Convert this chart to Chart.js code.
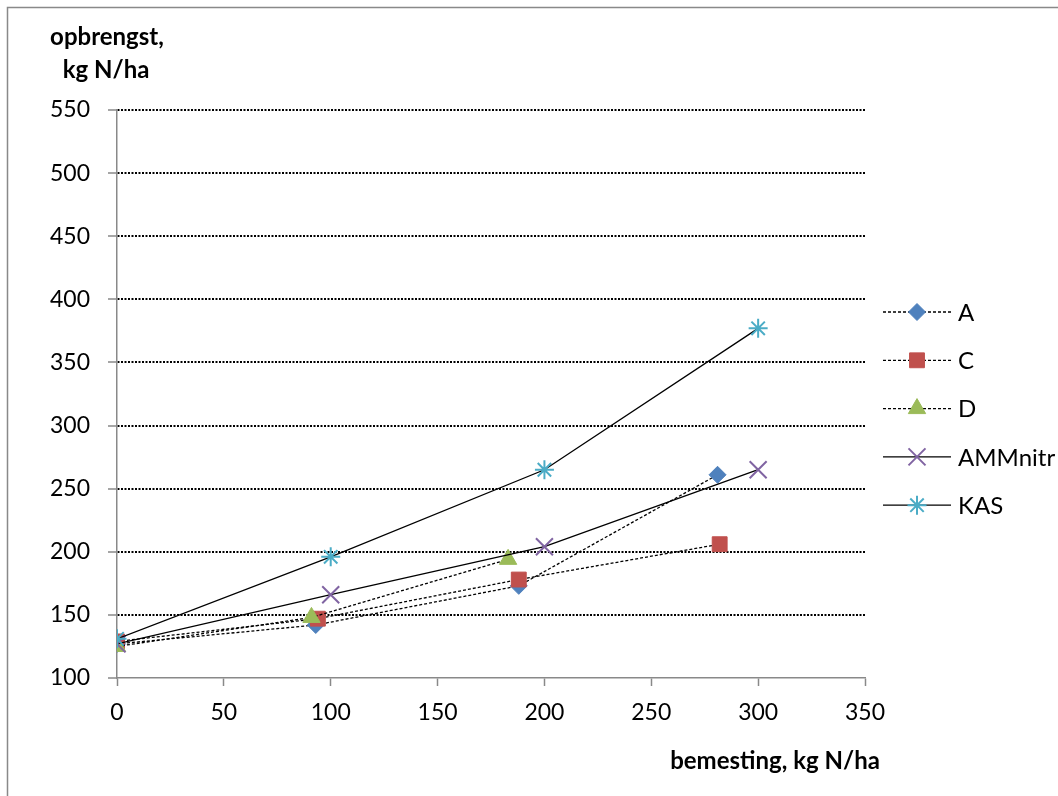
<!DOCTYPE html>
<html lang="no">
<head>
  <meta charset="UTF-8" />
  <title>Opbrengst vs bemesting</title>
  <script src="https://cdn.jsdelivr.net/npm/chart.js"></script>
  <style>
    html, body { margin: 0; padding: 0; background: #fff; }
    #wrap { position: relative; width: 1058px; height: 796px; }
  </style>
</head>
<body>
  <div id="wrap"><canvas id="chart" width="1058" height="796"></canvas></div>
  <script>
    // series names + values
    const seriesNames = ['A', 'C', 'D', 'AMMnitr', 'KAS'];
    const xA = [0, 93, 188, 281];
    const yA = [127, 142, 173, 261];
    const xC = [0, 94, 188, 282];
    const yC = [129, 147, 178, 206];
    const xD = [0, 91, 183];
    const yD = [125, 148, 194];
    const xAmm = [0, 100, 200, 300];
    const yAmm = [127, 166, 204, 265];
    const xKas = [0, 100, 200, 300];
    const yKas = [131, 196, 265, 377];

    const xTitle = 'bemesting, kg N/ha';
    const yTitle = ['opbrengst,', 'kg N/ha'];

    const FONT = 'Lato, "Open Sans", sans-serif';
    const AXIS_GREY = '#898989';

    function pts(xs, ys) {
      return xs.map((x, i) => ({ x: x, y: ys[i] }));
    }

    const datasets = [
      { label: seriesNames[0], data: pts(xA, yA), borderDash: [3, 2], pointStyle: 'rectRot', pointRadius: 8.5,
        pointBackgroundColor: '#4F81BD', pointBorderColor: '#4F81BD', pointBorderWidth: 1 },
      { label: seriesNames[1], data: pts(xC, yC), borderDash: [3, 2], pointStyle: 'rect', pointRadius: 10.5,
        pointBackgroundColor: '#C0504D', pointBorderColor: '#C0504D', pointBorderWidth: 1 },
      { label: seriesNames[2], data: pts(xD, yD), borderDash: [3, 2], pointStyle: 'triangle', pointRadius: 10,
        pointBackgroundColor: '#9BBB59', pointBorderColor: '#9BBB59', pointBorderWidth: 1 },
      { label: seriesNames[3], data: pts(xAmm, yAmm), borderDash: [], pointStyle: 'crossRot', pointRadius: 12,
        pointBackgroundColor: '#8064A2', pointBorderColor: '#8064A2', pointBorderWidth: 2 },
      { label: seriesNames[4], data: pts(xKas, yKas), borderDash: [], pointStyle: 'star', pointRadius: 9.5,
        pointBackgroundColor: '#4BACC6', pointBorderColor: '#4BACC6', pointBorderWidth: 2 }
    ].map((d, i) => Object.assign({
      showLine: true,
      borderColor: '#000',
      borderWidth: 1.3,
      fill: false,
      tension: 0,
      order: 5 - i, // later series on top, like the original
      pointHoverRadius: d.pointRadius
    }, d));

    // frame, axis captions and the legend on the right
    const decor = {
      id: 'decor',
      beforeDraw(chart) {
        const ctx = chart.ctx;
        ctx.save();
        ctx.fillStyle = '#fff';
        ctx.fillRect(0, 0, chart.width, chart.height);
        ctx.strokeStyle = AXIS_GREY;
        ctx.lineWidth = 1.5;
        ctx.strokeRect(7.5, 7.5, chart.width - 4, chart.height + 10);
        ctx.restore();
      },
      afterDatasetsDraw(chart) {
        const ctx = chart.ctx;
        ctx.save();
        ctx.fillStyle = '#000';
        ctx.font = 'bold 24px ' + FONT;
        ctx.textAlign = 'center';
        ctx.textBaseline = 'middle';
        ctx.fillText(yTitle[0], 107, 37);
        ctx.fillText(yTitle[1], 106, 70);
        ctx.fillText(xTitle, 775, 761);

        // legend
        ctx.font = '24px ' + FONT;
        ctx.textAlign = 'left';
        chart.data.datasets.forEach((ds, i) => {
          const y = 312 + i * 48.3;
          ctx.save();
          ctx.strokeStyle = ds.borderColor;
          ctx.lineWidth = ds.borderWidth;
          ctx.setLineDash(ds.borderDash);
          ctx.beginPath();
          ctx.moveTo(883, y);
          ctx.lineTo(951, y);
          ctx.stroke();
          ctx.restore();
          ctx.save();
          ctx.fillStyle = ds.pointBackgroundColor;
          ctx.strokeStyle = ds.pointBorderColor;
          ctx.lineWidth = ds.pointBorderWidth;
          Chart.helpers.drawPoint(ctx, {
            pointStyle: ds.pointStyle,
            radius: ds.pointRadius,
            rotation: 0,
            borderWidth: ds.pointBorderWidth
          }, 917, y);
          ctx.restore();
          ctx.fillStyle = '#000';
          ctx.fillText(ds.label, 958, y + 1);
        });
        ctx.restore();
      }
    };

    new Chart(document.getElementById('chart').getContext('2d'), {
      type: 'scatter',
      data: { datasets: datasets },
      options: {
        responsive: false,
        animation: false,
        layout: { padding: { left: 0, top: 110, right: 193, bottom: 0 } },
        plugins: {
          legend: { display: false },
          tooltip: { enabled: false }
        },
        scales: {
          x: {
            type: 'linear',
            min: 0, max: 350,
            afterFit: s => { s.height = 118; },
            ticks: { stepSize: 50, color: '#000', padding: 13, font: { family: FONT, size: 23 } },
            grid: {
              drawOnChartArea: false,
              drawTicks: true,
              tickLength: 8,
              tickColor: AXIS_GREY,
              tickWidth: 1.5
            },
            border: { color: AXIS_GREY, width: 1.5 }
          },
          y: {
            type: 'linear',
            min: 100, max: 550,
            afterFit: s => { s.width = 117; },
            ticks: { stepSize: 50, color: '#000', padding: 18, font: { family: FONT, size: 23 } },
            grid: {
              color: c => (c.tick && c.tick.value === 100 ? 'rgba(0,0,0,0)' : '#000'),
              lineWidth: 2,
              drawTicks: true,
              tickLength: 9,
              tickColor: AXIS_GREY,
              tickWidth: 1.5,
              tickBorderDash: []
            },
            // dotted horizontal grid (Excel style); dash applies to grid lines
            border: { color: AXIS_GREY, width: 1.5, dash: [2, 1.5] }
          }
        }
      },
      plugins: [decor]
    });
  </script>
</body>
</html>
